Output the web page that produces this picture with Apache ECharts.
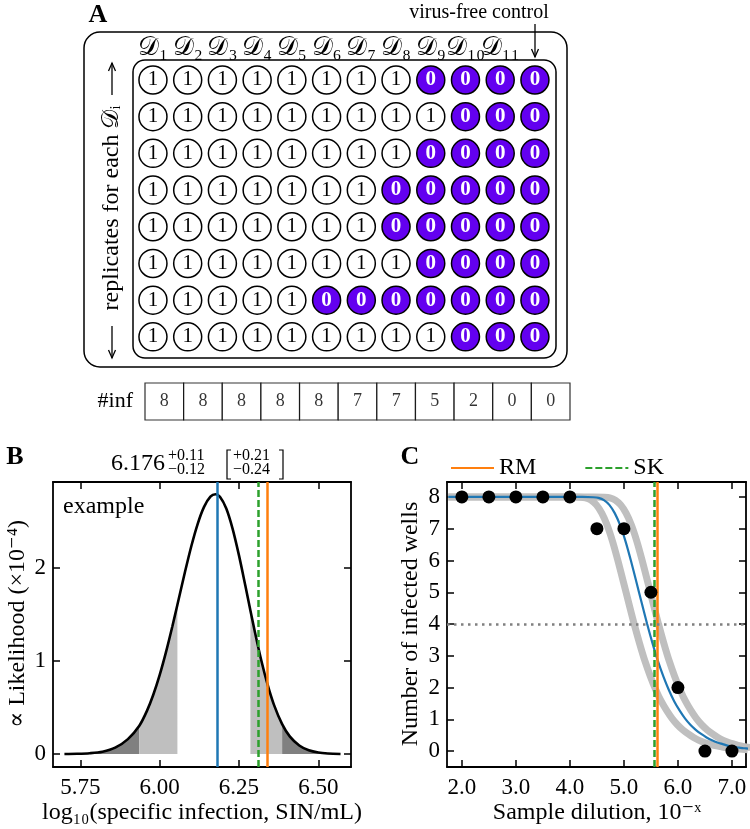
<!DOCTYPE html>
<html><head><meta charset="utf-8">
<script src="https://cdn.jsdelivr.net/npm/echarts@6/dist/echarts.min.js"></script>
<style>html,body{margin:0;padding:0;background:#fff}#c{width:750px;height:829px}</style>
</head><body><div id="c"></div>
<script>
// ---------------- data ----------------
const wellColumns = ['𝒟₁','𝒟₂','𝒟₃','𝒟₄','𝒟₅','𝒟₆','𝒟₇','𝒟₈','𝒟₉','𝒟₁₀','𝒟₁₁',''];
const wellRowNames = ['r1','r2','r3','r4','r5','r6','r7','r8'];
const wellGrid = [
  [1,1,1,1,1,1,1,1,0,0,0,0],
  [1,1,1,1,1,1,1,1,1,0,0,0],
  [1,1,1,1,1,1,1,1,0,0,0,0],
  [1,1,1,1,1,1,1,0,0,0,0,0],
  [1,1,1,1,1,1,1,0,0,0,0,0],
  [1,1,1,1,1,1,1,1,0,0,0,0],
  [1,1,1,1,1,0,0,0,0,0,0,0],
  [1,1,1,1,1,1,1,1,1,0,0,0]
];
const infLabel = '#inf';
const infCounts = [8,8,8,8,8,7,7,5,2,0,0];

// panel B: likelihood curve
const likeX = [5.70,5.74,5.78,5.82,5.86,5.90,5.936,5.96,5.98,6.00,6.02,6.04,6.056,6.08,6.10,6.12,6.14,6.16,6.176,6.19,6.21,6.23,6.25,6.27,6.286,6.30,6.32,6.34,6.36,6.386,6.41,6.44,6.47,6.50,6.53,6.57];
const likeY = [0.001,0.003,0.009,0.025,0.068,0.160,0.304,0.463,0.636,0.846,1.093,1.368,1.601,1.954,2.231,2.469,2.650,2.759,2.786,2.759,2.633,2.415,2.130,1.807,1.540,1.311,1.008,0.746,0.530,0.321,0.190,0.092,0.040,0.016,0.006,0.001];
const ci68 = [6.056, 6.286];
const ci95 = [5.936, 6.386];
const bestB = 6.176, skB = 6.31, rmB = 6.345;
const bTitleMain = '6.176', bTitleUp = '+0.11', bTitleDn = '−0.12', bTitleUp2 = '+0.21', bTitleDn2 = '−0.24';
const bTicksX = [5.75, 6.00, 6.25, 6.50];
const bTicksY = [0, 1, 2];

// panel C
const dilutionExp = [2.0,2.5,3.0,3.5,4.0,4.5,5.0,5.5,6.0,6.5,7.0];
const fitX = [1.75,4.23,4.43,4.53,4.63,4.73,4.83,4.93,5.03,5.13,5.23,5.33,5.43,5.53,5.63,5.73,5.83,5.93,6.03,6.13,6.23,6.33,6.43,6.53,6.63,6.73,6.83,6.93,7.03,7.13,7.23,7.30];
const fitY = [8,8.00,7.99,7.97,7.90,7.75,7.49,7.11,6.60,5.99,5.33,4.66,4.00,3.39,2.83,2.35,1.93,1.57,1.28,1.03,0.83,0.67,0.54,0.43,0.34,0.27,0.22,0.17,0.14,0.11,0.09,0.075];
const loX = [1.75,3.99,4.19,4.29,4.39,4.49,4.59,4.69,4.79,4.89,4.99,5.09,5.19,5.29,5.39,5.49,5.59,5.69,5.79,5.89,5.99,6.09,6.19,6.29,6.39,6.49,6.59,6.69,6.79,6.89,6.99,7.09,7.19,7.29];
const loY = [8,8.00,7.99,7.97,7.90,7.75,7.49,7.11,6.60,5.99,5.33,4.66,4.00,3.39,2.83,2.35,1.93,1.57,1.28,1.03,0.83,0.67,0.54,0.43,0.34,0.27,0.22,0.17,0.14,0.11,0.09,0.07,0.055,0.044];
const hiX = [1.75,4.44,4.64,4.74,4.84,4.94,5.04,5.14,5.24,5.34,5.44,5.54,5.64,5.74,5.84,5.94,6.04,6.14,6.24,6.34,6.44,6.54,6.64,6.74,6.84,6.94,7.04,7.14,7.24,7.34];
const hiY = [8,8.00,7.99,7.97,7.90,7.75,7.49,7.11,6.60,5.99,5.33,4.66,4.00,3.39,2.83,2.35,1.93,1.57,1.28,1.03,0.83,0.67,0.54,0.43,0.34,0.27,0.22,0.17,0.14,0.11];
const rmC = 5.61, skC = 5.56;
const halfWells = 4;
const cTicksX = [2, 3, 4, 5, 6, 7];
const cTicksY = [0, 1, 2, 3, 4, 5, 6, 7, 8];

// ---------------- styles ----------------
const FONT = "'Liberation Serif','DejaVu Serif',serif";
const BLUE = '#1f77b4', ORANGE = '#ff7f0e', GREEN = '#2ca02c', PURPLE = '#6300f0';
const DARK = '#808080', LIGHT = '#bfbfbf';

const zip = (xs, ys) => xs.map((x, i) => [x, ys[i]]);
const likePts = zip(likeX, likeY);
const seg = (lo, hi) => likePts.filter(p => p[0] >= lo - 1e-9 && p[0] <= hi + 1e-9);

// wells data
const wellData = [];
wellGrid.forEach((row, r) => row.forEach((v, c) => {
  wellData.push({
    value: [c, r, v],
    itemStyle: { color: v ? '#ffffff' : PURPLE },
    label: { color: v ? '#000' : '#fff', fontWeight: v ? 'normal' : 'bold' }
  });
}));
const tableData = infCounts.map((v, i) => [i, 0, v]);

function boxX(grid, min, max, ticks, fmt, pos, showLabel) {
  return {
    gridIndex: grid, type: 'value', min, max, position: pos,
    axisLine: { show: true, onZero: false, lineStyle: { color: '#000', width: 1.8 } },
    axisTick: { show: true, inside: true, length: 7, customValues: ticks, lineStyle: { color: '#000', width: 1.5 } },
    axisLabel: { show: showLabel, customValues: ticks, formatter: fmt, fontSize: 23, color: '#000', fontFamily: FONT, margin: 9 },
    splitLine: { show: false }
  };
}
function boxY(grid, min, max, ticks, fmt, pos, showLabel) {
  return {
    gridIndex: grid, type: 'value', min, max, position: pos,
    axisLine: { show: true, onZero: false, lineStyle: { color: '#000', width: 1.8 } },
    axisTick: { show: true, inside: true, length: 7, customValues: ticks, lineStyle: { color: '#000', width: 1.5 } },
    axisLabel: { show: showLabel, customValues: ticks, formatter: fmt, fontSize: 23, color: '#000', fontFamily: FONT, margin: 7 },
    splitLine: { show: false }
  };
}
function vline(name, x, color, type, xi, yi, z) {
  return {
    name, type: 'line', xAxisIndex: xi, yAxisIndex: yi, data: [], symbol: 'none', z: z || 5,
    color, lineStyle: { color, width: 2.5, type },
    markLine: { silent: true, symbol: 'none', label: { show: false }, animation: false,
      lineStyle: { color, width: 2.5, type }, data: [{ xAxis: x }] }
  };
}
function area(pts, color) {
  return { type: 'line', xAxisIndex: 2, yAxisIndex: 2, data: pts, symbol: 'none', smooth: 0.3,
    lineStyle: { width: 0 }, areaStyle: { color, opacity: 1 }, z: 1 };
}

const txt = (x, y, text, size, extra) => Object.assign({
  type: 'text', x, y, silent: true,
  style: Object.assign({ text, fontSize: size, fontFamily: FONT, fill: '#000', textAlign: 'center', textVerticalAlign: 'middle' }, extra || {})
});
const poly = (points, w) => ({ type: 'polyline', silent: true, shape: { points }, style: { stroke: '#000', lineWidth: w || 1.3, fill: null } });

const option = {
  animation: false,
  backgroundColor: '#fff',
  grid: [
    { left: 135.6, top: 61.6, width: 416.7, height: 293.6 },
    { left: 145, top: 383, width: 425, height: 37 },
    { left: 53, top: 482, width: 298, height: 285 },
    { left: 447, top: 482, width: 299, height: 285 }
  ],
  xAxis: [
    { gridIndex: 0, type: 'category', data: wellColumns, position: 'top',
      axisLine: { show: false }, axisTick: { show: false },
      axisLabel: { fontSize: 26, fontFamily: FONT, color: '#000', margin: 0, interval: 0 } },
    { gridIndex: 1, type: 'category', data: infCounts.map((v, i) => String(i)), show: false },
    boxX(2, 5.664, 6.603, bTicksX, v => v.toFixed(2), 'bottom', true),
    boxX(2, 5.664, 6.603, bTicksX, v => v.toFixed(2), 'top', false),
    boxX(3, 1.725, 7.26, cTicksX, v => v.toFixed(1), 'bottom', true),
    boxX(3, 1.725, 7.26, cTicksX, v => v.toFixed(1), 'top', false)
  ],
  yAxis: [
    { gridIndex: 0, type: 'category', data: wellRowNames, inverse: true, show: false },
    { gridIndex: 1, type: 'category', data: [infLabel],
      axisLine: { show: false }, axisTick: { show: false },
      axisLabel: { fontSize: 22, fontFamily: FONT, color: '#000', margin: 12 } },
    boxY(2, -0.139, 2.917, bTicksY, v => String(v), 'left', true),
    boxY(2, -0.139, 2.917, bTicksY, v => String(v), 'right', false),
    boxY(3, -0.5, 8.47, cTicksY, v => String(v), 'left', true),
    boxY(3, -0.5, 8.47, cTicksY, v => String(v), 'right', false)
  ],
  legend: {
    left: 445, top: 451, itemWidth: 43, itemHeight: 14, itemGap: 48,
    itemStyle: { opacity: 0 },
    textStyle: { fontSize: 24, fontFamily: FONT, color: '#000' },
    data: ['RM', 'SK']
  },
  series: [
    { type: 'scatter', xAxisIndex: 0, yAxisIndex: 0, data: wellData, symbol: 'circle', symbolSize: 28,
      itemStyle: { borderColor: '#000', borderWidth: 1.5, opacity: 1 },
      label: { show: true, position: 'inside', formatter: p => String(p.value[2]), fontSize: 21, fontFamily: FONT } },
    { type: 'scatter', xAxisIndex: 1, yAxisIndex: 1, data: tableData, symbol: 'rect', symbolSize: [38.64, 37],
      itemStyle: { color: '#fff', borderColor: '#000', borderWidth: 1.2 },
      label: { show: true, position: 'inside', formatter: p => String(p.value[2]), fontSize: 18, fontFamily: FONT, color: '#000' } },
    // panel B
    area(seg(likeX[0], ci95[0]), DARK),
    area(seg(ci95[0], ci68[0]), LIGHT),
    area(seg(ci68[1], ci95[1]), LIGHT),
    area(seg(ci95[1], likeX[likeX.length - 1]), DARK),
    vline('bestB', bestB, BLUE, 'solid', 2, 2, 3),
    vline('skB', skB, GREEN, [7, 3], 2, 2, 3),
    vline('rmB', rmB, ORANGE, 'solid', 2, 2, 3),
    { type: 'line', xAxisIndex: 2, yAxisIndex: 2, data: likePts, symbol: 'none', smooth: 0.3,
      lineStyle: { color: '#000', width: 2.6 }, z: 4 },
    // panel C
    { type: 'line', xAxisIndex: 4, yAxisIndex: 4, data: zip(loX, loY), symbol: 'none', smooth: 0.3,
      lineStyle: { color: LIGHT, width: 7 }, z: 2 },
    { type: 'line', xAxisIndex: 4, yAxisIndex: 4, data: zip(hiX, hiY), symbol: 'none', smooth: 0.3,
      lineStyle: { color: LIGHT, width: 7 }, z: 2 },
    { type: 'line', xAxisIndex: 4, yAxisIndex: 4, data: zip(fitX, fitY), symbol: 'none', smooth: 0.3,
      lineStyle: { color: BLUE, width: 2.2 }, z: 3 },
    vline('SK', skC, GREEN, [7, 3], 4, 4, 4),
    vline('RM', rmC, ORANGE, 'solid', 4, 4, 4),
    { type: 'scatter', xAxisIndex: 4, yAxisIndex: 4, data: zip(dilutionExp, infCounts), symbol: 'circle', symbolSize: 13,
      itemStyle: { color: '#000', opacity: 1 }, z: 6,
      markLine: { silent: true, symbol: 'none', label: { show: false }, animation: false,
        lineStyle: { color: '#808080', width: 2.5, type: [2.5, 4.5] }, data: [{ yAxis: halfWells }] } }
  ],
  graphic: [
    txt(98, 15, 'A', 26, { fontWeight: 'bold' }),
    { type: 'rect', silent: true, shape: { x: 84, y: 32, width: 483, height: 335, r: 16 }, style: { stroke: '#000', lineWidth: 1.5, fill: null } },
    { type: 'rect', silent: true, shape: { x: 133, y: 60, width: 423, height: 298, r: 12 }, style: { stroke: '#000', lineWidth: 1.5, fill: null } },
    txt(479, 13, 'virus-free control', 20),
    poly([[535, 24], [535, 57]]),
    poly([[531.5, 49], [535, 57], [538.5, 49]]),
    txt(112, 208, 'replicates for each 𝒟ᵢ', 24, {}),
    poly([[112, 95], [112, 63]]),
    poly([[108.5, 71], [112, 63], [115.5, 71]]),
    poly([[112, 326], [112, 358]]),
    poly([[108.5, 350], [112, 358], [115.5, 350]]),
    // panel B
    txt(15, 457, 'B', 26, { fontWeight: 'bold' }),
    txt(165, 464, bTitleMain, 24, { textAlign: 'right' }),
    txt(168, 456, bTitleUp, 16, { textAlign: 'left' }),
    txt(168, 470, bTitleDn, 16, { textAlign: 'left' }),
    poly([[231, 450], [227, 450], [227, 479], [231, 479]], 1.2),
    txt(233, 456, bTitleUp2, 16, { textAlign: 'left' }),
    txt(233, 470, bTitleDn2, 16, { textAlign: 'left' }),
    poly([[279, 450], [283, 450], [283, 479], [279, 479]], 1.2),
    txt(63, 507, 'example', 24, { textAlign: 'left' }),
    txt(202, 813, 'log₁₀(specific infection, SIN/mL)', 24),
    txt(410, 457, 'C', 26, { fontWeight: 'bold' }),
    txt(597, 813, 'Sample dilution, 10⁻ˣ', 24),
  ]
};
// rotated labels
option.graphic.push(Object.assign(txt(0, 0, '∝ Likelihood (×10⁻⁴)', 24), { x: 18, y: 624, rotation: Math.PI / 2 }));
option.graphic.push(Object.assign(txt(0, 0, 'Number of infected wells', 24), { x: 411, y: 624, rotation: Math.PI / 2 }));
option.graphic[6] = Object.assign(option.graphic[6], { rotation: Math.PI / 2 });

const chart = echarts.init(document.getElementById('c'), null, { renderer: 'canvas' });
chart.setOption(option);
</script>
</body></html>
